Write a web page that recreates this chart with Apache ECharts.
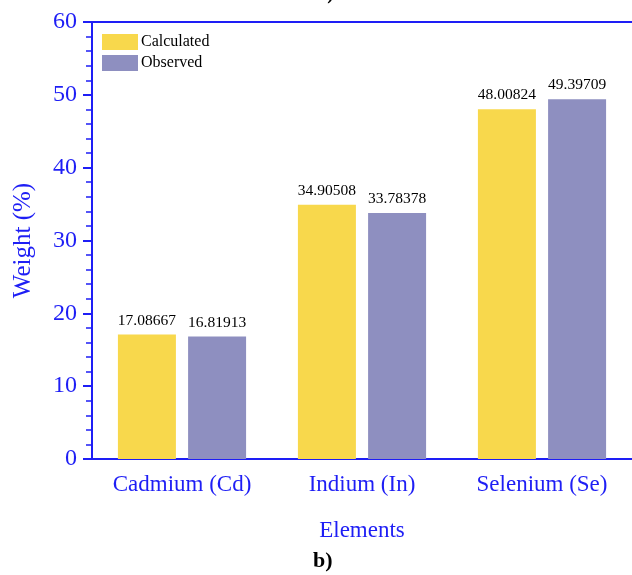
<!DOCTYPE html>
<html>
<head>
<meta charset="utf-8">
<script src="https://cdn.jsdelivr.net/npm/echarts@6/dist/echarts.min.js"></script>
<style>
  html, body { margin: 0; padding: 0; background: #fff; }
  #main { width: 632px; height: 575px; }
</style>
</head>
<body>
<div id="main"></div>
<script>
// data
var elements = ['Cadmium (Cd)', 'Indium (In)', 'Selenium (Se)'];
var calculated = [17.08667, 34.90508, 48.00824];
var observed = [16.81913, 33.78378, 49.39709];
var labelsCalc = ['17.08667', '34.90508', '48.00824'];
var labelsObs = ['16.81913', '33.78378', '49.39709'];

var dom = document.getElementById('main');
var myChart = echarts.init(dom);

var blue = '#1e1ef5';
var serif = '"Liberation Serif", "Times New Roman", serif';

var option = {
    animation: false,
    textStyle: { fontFamily: serif },
    grid: {
        left: 92,
        right: -3,
        top: 22,
        bottom: 116
    },
    legend: {
        orient: 'vertical',
        left: 97,
        top: 29,
        itemWidth: 36,
        itemHeight: 16,
        itemGap: 5,
        icon: 'rect',
        textStyle: { fontFamily: serif, fontSize: 16, color: '#000', padding: [0, 0, 0, -2] },
        data: ['Calculated', 'Observed']
    },
    graphic: [
        {
            type: 'text',
            left: 313,
            top: 550,
            style: { text: 'b)', font: 'bold 22px ' + serif, fill: '#000' }
        },
        {
            type: 'text',
            x: 334,
            y: 4,
            style: { text: 'a)', font: 'bold 20px ' + serif, fill: '#000', align: 'right', verticalAlign: 'bottom' }
        }
    ],
    xAxis: [
        {
            type: 'category',
            data: elements,
            name: 'Elements',
            nameLocation: 'middle',
            nameGap: 60,
            nameTextStyle: { fontFamily: serif, fontSize: 23, color: blue },
            axisLine: { lineStyle: { color: blue, width: 2 } },
            axisTick: { alignWithLabel: true, length: 7, lineStyle: { color: blue, width: 2 } },
            axisLabel: { interval: 0, hideOverlap: false, fontFamily: serif, fontSize: 23, color: blue, margin: 14 },
            splitLine: { show: false }
        },
        {
            // plain top frame line
            type: 'category',
            position: 'top',
            data: elements,
            axisLine: { lineStyle: { color: blue, width: 2 } },
            axisTick: { show: false },
            axisLabel: { show: false },
            splitLine: { show: false }
        }
    ],
    yAxis: {
        type: 'value',
        min: 0,
        max: 60,
        interval: 10,
        name: 'Weight (%)',
        nameLocation: 'middle',
        nameGap: 56,
        nameTextStyle: { fontFamily: serif, fontSize: 25, color: blue },
        axisLine: { show: true, lineStyle: { color: blue, width: 2 } },
        axisTick: { show: true, length: 9, lineStyle: { color: blue, width: 2 } },
        minorTick: { show: true, splitNumber: 5, length: 6, lineStyle: { color: blue, width: 1.5 } },
        axisLabel: { fontFamily: serif, fontSize: 24, color: blue, margin: 15 },
        splitLine: { show: false }
    },
    series: [
        {
            name: 'Calculated',
            type: 'bar',
            barWidth: 58,
            barGap: '21%',
            itemStyle: { color: '#f8d84c' },
            label: {
                show: true,
                position: 'top',
                distance: 6,
                fontFamily: serif,
                fontSize: 15.5,
                color: '#000',
                formatter: function (p) { return labelsCalc[p.dataIndex]; }
            },
            data: calculated
        },
        {
            name: 'Observed',
            type: 'bar',
            barWidth: 58,
            barGap: '21%',
            itemStyle: { color: '#8e8fc0' },
            label: {
                show: true,
                position: 'top',
                distance: 6,
                fontFamily: serif,
                fontSize: 15.5,
                color: '#000',
                formatter: function (p) { return labelsObs[p.dataIndex]; }
            },
            data: observed
        }
    ]
};

if (option && typeof option === 'object') {
    myChart.setOption(option);
}
</script>
</body>
</html>
